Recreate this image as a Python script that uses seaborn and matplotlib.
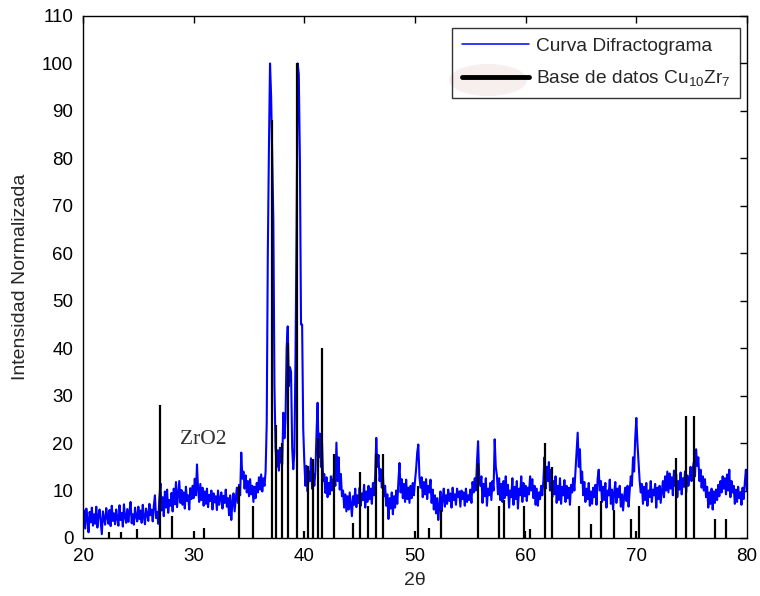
import numpy as np
import pandas as pd
import matplotlib
matplotlib.use("Agg")
import matplotlib.pyplot as plt
import seaborn as sns
from matplotlib.lines import Line2D
from matplotlib.patches import Ellipse

# ---------------- data ----------------
two_theta_start = 20.0
two_theta_step = 0.1
intensity = [
    3.1, 5.8, 2.0, 6.2, 4.0, 1.2, 5.5, 3.3, 6.4, 2.6,      # 20
    5.0, 3.0, 6.6, 2.2, 4.8, 6.0, 3.4, 0.8, 5.6, 4.1,      # 21
    2.8, 6.3, 4.4, 3.0, 5.9, 2.5, 6.8, 3.6, 5.2, 2.9,      # 22
    6.0, 4.2, 2.6, 6.9, 3.8, 5.3, 2.4, 7.1, 4.5, 3.2,      # 23
    6.1, 3.4, 5.7, 7.6, 3.1, 5.0, 2.8, 6.4, 4.6, 3.5,      # 24
    6.6, 4.0, 5.8, 3.2, 7.0, 4.4, 2.9, 6.2, 5.1, 3.6,      # 25
    7.2, 4.8, 6.0, 3.5, 6.8, 9.0, 4.2, 5.5, 3.0, 8.4,      # 26
    11.5, 5.8, 8.6, 4.6, 9.8, 6.4, 10.2, 5.3, 8.0, 6.8,    # 27
    9.5, 5.6, 10.4, 7.1, 11.8, 6.5, 9.2, 12.0, 7.4, 10.1,  # 28
    7.0, 9.6, 6.2, 10.8, 7.8, 9.0, 6.0, 10.5, 8.2, 11.0,   # 29
    8.4, 12.5, 9.0, 15.5, 10.2, 7.6, 11.4, 8.0, 10.6, 6.8, # 30
    9.8, 7.2, 10.4, 6.5, 9.1, 7.8, 10.0, 6.0, 9.4, 7.5,    # 31
    8.8, 5.9, 10.0, 7.0, 8.2, 9.6, 6.2, 8.9, 7.4, 10.2,    # 32
    6.6, 8.4, 4.8, 9.0, 3.8, 7.6, 9.4, 5.6, 8.0, 10.6,     # 33
    7.4, 11.2, 9.0, 18.0, 12.5, 14.0, 10.4, 13.2, 9.6, 12.0,  # 34
    8.8, 12.4, 9.2, 11.0, 7.6, 10.8, 8.4, 11.6, 9.6, 12.8,    # 35
    10.2, 13.4, 9.8, 12.6, 11.0, 14.0, 24.0, 60.0, 82.0, 100.0,  # 36
    93.0, 80.0, 67.0, 32.0, 19.0, 15.0, 18.5, 14.2, 19.0, 16.0,  # 37
    15.5, 26.4, 21.0, 25.0, 40.0, 44.6, 32.0, 36.0, 35.0, 19.0,  # 38
    14.5, 18.0, 37.6, 65.0, 100.0, 97.7, 79.4, 45.0, 45.0, 23.0, # 39
    16.0, 11.0, 15.2, 9.8, 14.0, 12.0, 16.8, 10.4, 13.6, 11.0,   # 40
    14.0, 22.0, 28.5, 17.0, 22.0, 15.0, 20.0, 12.0, 13.5, 9.5,   # 41
    12.8, 8.6, 11.6, 9.2, 13.0, 10.0, 12.2, 14.0, 11.0, 20.1,    # 42
    12.0, 17.0, 10.2, 13.5, 8.8, 10.0, 6.4, 9.2, 5.6, 8.8,       # 43
    6.0, 9.6, 7.2, 4.6, 8.8, 7.0, 10.4, 6.5, 9.0, 7.4,           # 44
    10.6, 6.8, 9.4, 8.0, 11.2, 6.4, 9.8, 7.6, 11.0, 8.2,         # 45
    10.4, 7.2, 11.6, 9.0, 13.0, 21.1, 15.0, 17.5, 12.0, 14.5,    # 46
    10.6, 13.2, 8.8, 11.0, 6.8, 9.2, 4.0, 8.4, 6.2, 9.6,         # 47
    5.0, 8.8, 6.4, 10.0, 7.2, 12.0, 15.8, 9.6, 12.4, 8.4,        # 48
    11.4, 7.6, 12.3, 8.2, 10.6, 7.4, 11.0, 8.4, 11.6, 9.0,       # 49
    12.0, 14.5, 18.0, 19.7, 13.0, 10.6, 12.8, 8.6, 11.8, 9.2,    # 50
    12.4, 8.2, 11.0, 9.6, 12.3, 7.4, 10.2, 6.0, 9.0, 5.2,        # 51
    8.4, 3.8, 7.0, 9.8, 5.6, 8.2, 10.4, 6.6, 9.0, 7.2,           # 52
    10.2, 7.8, 9.4, 6.4, 10.6, 8.0, 9.2, 7.0, 10.4, 8.6,         # 53
    9.8, 6.6, 10.0, 8.2, 9.6, 6.8, 10.4, 7.6, 9.0, 8.0,          # 54
    10.2, 7.4, 11.8, 9.6, 12.6, 10.0, 16.0, 20.4, 13.0, 11.0,    # 55
    13.0, 7.4, 11.4, 8.8, 12.6, 6.8, 10.4, 9.0, 11.6, 8.0,       # 56
    12.0, 10.0, 20.8, 15.0, 13.2, 9.2, 12.6, 8.0, 11.4, 7.6,     # 57
    12.0, 8.4, 13.0, 9.0, 11.2, 6.4, 10.0, 8.6, 12.6, 7.0,       # 58
    10.8, 8.2, 12.0, 6.2, 10.4, 9.0, 13.0, 7.6, 11.6, 8.8,       # 59
    11.0, 7.8, 10.6, 9.2, 13.0, 10.0, 12.4, 8.4, 11.0, 7.0,      # 60
    10.4, 6.8, 9.6, 8.2, 11.0, 9.0, 12.0, 17.0, 10.4, 15.0,      # 61
    12.0, 16.0, 10.0, 14.4, 8.6, 12.0, 9.2, 13.0, 7.4, 11.0,     # 62
    8.0, 12.6, 7.2, 10.8, 9.0, 12.2, 7.6, 11.0, 8.4, 10.6,       # 63
    7.0, 11.2, 9.6, 12.6, 10.0, 14.0, 18.0, 22.2, 15.0, 18.7,    # 64
    11.6, 14.0, 9.0, 11.8, 7.6, 10.4, 8.2, 11.6, 6.8, 9.8,       # 65
    7.2, 10.6, 8.6, 11.2, 7.0, 12.4, 14.4, 10.0, 12.0, 7.6,      # 66
    10.8, 8.0, 11.6, 6.4, 10.0, 9.0, 12.3, 7.2, 10.2, 6.0,       # 67
    9.6, 11.8, 7.4, 10.4, 8.6, 11.0, 6.6, 9.2, 5.8, 8.8,         # 68
    10.6, 7.8, 11.0, 6.6, 10.0, 13.0, 11.0, 17.0, 14.0, 21.0,    # 69
    25.3, 20.0, 16.0, 12.0, 9.6, 11.4, 7.2, 10.8, 8.0, 11.6,     # 70
    6.8, 10.0, 8.6, 12.0, 7.6, 10.2, 9.0, 11.4, 6.4, 10.6,       # 71
    8.2, 11.0, 7.4, 9.8, 12.0, 8.6, 13.0, 10.0, 14.0, 9.6,       # 72
    13.6, 10.4, 12.8, 9.0, 14.2, 11.0, 13.4, 8.6, 12.0, 10.2,    # 73
    13.8, 9.2, 12.6, 10.8, 14.0, 9.6, 13.2, 11.0, 12.4, 15.0,    # 74
    12.0, 14.6, 16.0, 13.0, 18.7, 15.2, 17.0, 12.0, 14.4, 10.6,  # 75
    13.0, 10.0, 12.4, 8.6, 10.8, 6.4, 9.6, 7.2, 10.4, 6.0,       # 76
    9.8, 7.4, 10.2, 8.0, 11.2, 8.8, 12.0, 9.6, 13.0, 10.4,       # 77
    12.6, 9.2, 13.4, 10.0, 14.4, 8.6, 12.0, 9.6, 11.0, 7.2,      # 78
    10.2, 7.6, 10.8, 8.4, 9.6, 7.0, 10.6, 8.2, 11.6, 14.4,       # 79
    10.0,                                                        # 80
]

stick_pos = [22.38, 23.46, 24.91, 26.96, 28.04, 30.00, 30.96, 34.12, 35.39,
             37.05, 37.44, 37.95, 38.55, 39.36, 39.94, 40.36, 40.78, 41.20,
             41.62, 42.71, 44.37, 45.06, 45.78, 46.47, 47.14, 50.03, 50.30,
             51.26, 52.38, 55.69, 57.62, 58.04, 59.85, 59.97, 60.39, 61.77,
             62.38, 64.82, 65.93, 66.81, 68.01, 69.52, 69.94, 70.24, 73.55,
             74.51, 75.21, 77.11, 78.10]
stick_h = [1.2, 1.2, 1.9, 28.1, 4.7, 1.4, 2.1, 10.9, 6.8,
           88.0, 23.9, 20.1, 41.1, 100.0, 1.4, 15.1, 16.7, 21.1,
           40.1, 17.8, 3.1, 13.9, 6.8, 17.8, 17.8, 1.4, 10.9,
           2.1, 5.9, 15.8, 6.8, 8.1, 6.8, 1.4, 1.9, 20.0,
           15.0, 6.8, 2.9, 7.8, 5.9, 3.9, 1.4, 6.8, 16.9,
           25.8, 25.8, 3.9, 3.9]

x_ticks = [20, 30, 40, 50, 60, 70, 80]
y_ticks = [0, 10, 20, 30, 40, 50, 60, 70, 80, 90, 100, 110]

label_curve = "Curva Difractograma"
label_db = "Base de datos Cu$_{10}$Zr$_{7}$"
annot_text = "ZrO2"

# ---------------- style ----------------
sns.set_style("white")
plt.rcParams['font.family'] = ['Liberation Sans', 'DejaVu Sans']
plt.rcParams['mathtext.fontset'] = 'custom'
plt.rcParams['mathtext.rm'] = 'Liberation Sans'
plt.rcParams['mathtext.it'] = 'Liberation Sans'
plt.rcParams['mathtext.default'] = 'regular'

fs_tick = 13.5
fs_leg = 13.8
fs_lab = 14
fig = plt.figure(figsize=(7.6, 5.96), dpi=100)
ax = fig.add_axes([83 / 760, 1 - 538 / 596, 664 / 760, 522 / 596])

df = pd.DataFrame({
    "two_theta": two_theta_start + two_theta_step * np.arange(len(intensity)),
    "intensity": intensity,
})
sns.lineplot(data=df, x="two_theta", y="intensity", ax=ax, color="#0000ff",
             lw=1.5, estimator=None, sort=False, zorder=2)
ax.vlines(stick_pos, 0, stick_h, color="black", lw=1.6, zorder=3)

ax.text(30.84, 20.8, annot_text, fontsize=15.5, family=['Liberation Serif', 'DejaVu Serif'],
        color="#333333", ha="center", va="center")

ax.set_xlim(20, 80)
ax.set_ylim(0, 110)
ax.set_xticks(x_ticks)
ax.set_yticks(y_ticks)
ax.tick_params(direction="in", top=True, right=True, length=5, width=1,
               labelsize=fs_tick, colors="black", pad=7)
for s in ax.spines.values():
    s.set_visible(True)
    s.set_color("black")
    s.set_linewidth(1.0)

ax.set_xlabel("2θ", fontsize=fs_lab, labelpad=5)
ax.set_ylabel("Intensidad Normalizada", fontsize=fs_lab, labelpad=9)

handles = [Line2D([], [], color="#0000ff", lw=1.1),
           Line2D([], [], color="black", lw=3.5)]
leg = ax.legend(handles, [label_curve, label_db], loc="upper right",
                bbox_to_anchor=(0.989, 0.977), fontsize=fs_leg, frameon=True,
                fancybox=False, edgecolor="black", handlelength=3.5,
                handletextpad=0.35, labelspacing=0.7, borderpad=0.5,
                borderaxespad=0.0)
leg.get_frame().set_facecolor("none")
leg.get_frame().set_linewidth(1.0)
leg.set_zorder(6)

blob = Ellipse(((488 - 83) / 664, (538 - 80) / 522), 78 / 664, 32 / 522,
               transform=ax.transAxes, facecolor="#f7eeee", edgecolor="none",
               zorder=5)
ax.add_patch(blob)

fig.savefig("out.png", dpi=100)
